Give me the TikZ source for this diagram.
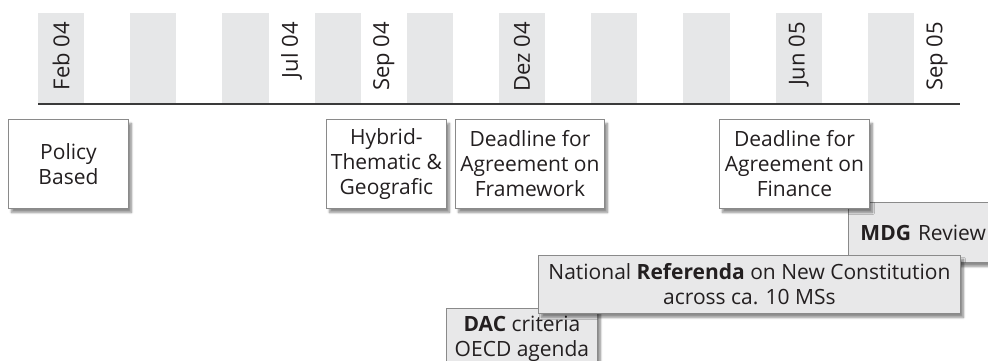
\documentclass[tikz,border=0pt]{standalone}
\usepackage{fontspec}
\setmainfont{Open Sans}
\usetikzlibrary{shadows.blur}
\definecolor{stripegray}{HTML}{E6E7E8}
\definecolor{boxgray}{HTML}{E8E8E9}
\definecolor{bordergray}{HTML}{8A8A8A}
\definecolor{txt}{HTML}{231F20}
\definecolor{axis}{HTML}{3A3A3A}
\tikzset{
  stripe/.style={fill=stripegray, draw=none},
  monthlbl/.style={rotate=90, anchor=east, inner sep=0pt, text=txt, font=\fontsize{22}{24}\selectfont},
  evbox/.style={draw=bordergray, line width=0.9pt, fill=white, align=center, text=txt,
    font=\fontsize{21}{25}\selectfont, inner sep=0pt,
    blur shadow={shadow xshift=3pt, shadow yshift=-4pt, shadow blur steps=6, shadow opacity=45}},
  grbox/.style={evbox, fill=boxgray},
}
\begin{document}
\begin{tikzpicture}[x=1pt, y=-1pt]
\useasboundingbox (0,0) rectangle (988,361);
% stripes
\foreach \i in {0,2,...,18} {
  \fill[stripegray] ({38+46.1*\i},13) rectangle ({38+46.1*(\i+1)},104);
}
% axis line
\coordinate (axL) at (38,104);
\coordinate (axR) at (960,104);
\draw[axis, line width=1.8pt] (axL) -- (axR);
% month labels
\node[monthlbl] (feb04) at ({38+46.1*0.5},22) {Feb 04};
\node[monthlbl] (jul04) at ({38+46.1*5.5},22) {Jul 04};
\node[monthlbl] (sep04) at ({38+46.1*7.5},22) {Sep 04};
\node[monthlbl] (dez04) at ({38+46.1*10.5},22) {Dez 04};
\node[monthlbl] (jun05) at ({38+46.1*16.5},22) {Jun 05};
\node[monthlbl] (sep05) at ({38+46.1*19.5},22) {Sep 05};
% lower boxes
\node[grbox, anchor=north west, minimum height=60, minimum width=180, text width=156, align=left, inner xsep=12pt] (mdg) at (848,202) {\textbf{MDG} Review};
\node[grbox, anchor=north west, minimum height=61, minimum width=151] (dac) at (446,308) {\textbf{DAC} criteria\\OECD agenda};
\node[grbox, anchor=north west, minimum height=58, minimum width=422] (natl) at (538,255) {National \textbf{Referenda} on New Constitution\\across ca. 10 MSs};
% upper boxes
\node[evbox, anchor=north west, minimum width=120, minimum height=89] (policy) at (8,119) {Policy\\Based};
\node[evbox, anchor=north west, minimum width=120, minimum height=89] (hybrid) at (326,119) {Hybrid-\\Thematic \&\\Geografic};
\node[evbox, anchor=north west, minimum width=149, minimum height=89] (dlfw) at (455,119) {Deadline for\\Agreement on\\Framework};
\node[evbox, anchor=north west, minimum width=150, minimum height=89] (dlfin) at (719,119) {Deadline for\\Agreement on\\Finance};
\end{tikzpicture}
\end{document}
